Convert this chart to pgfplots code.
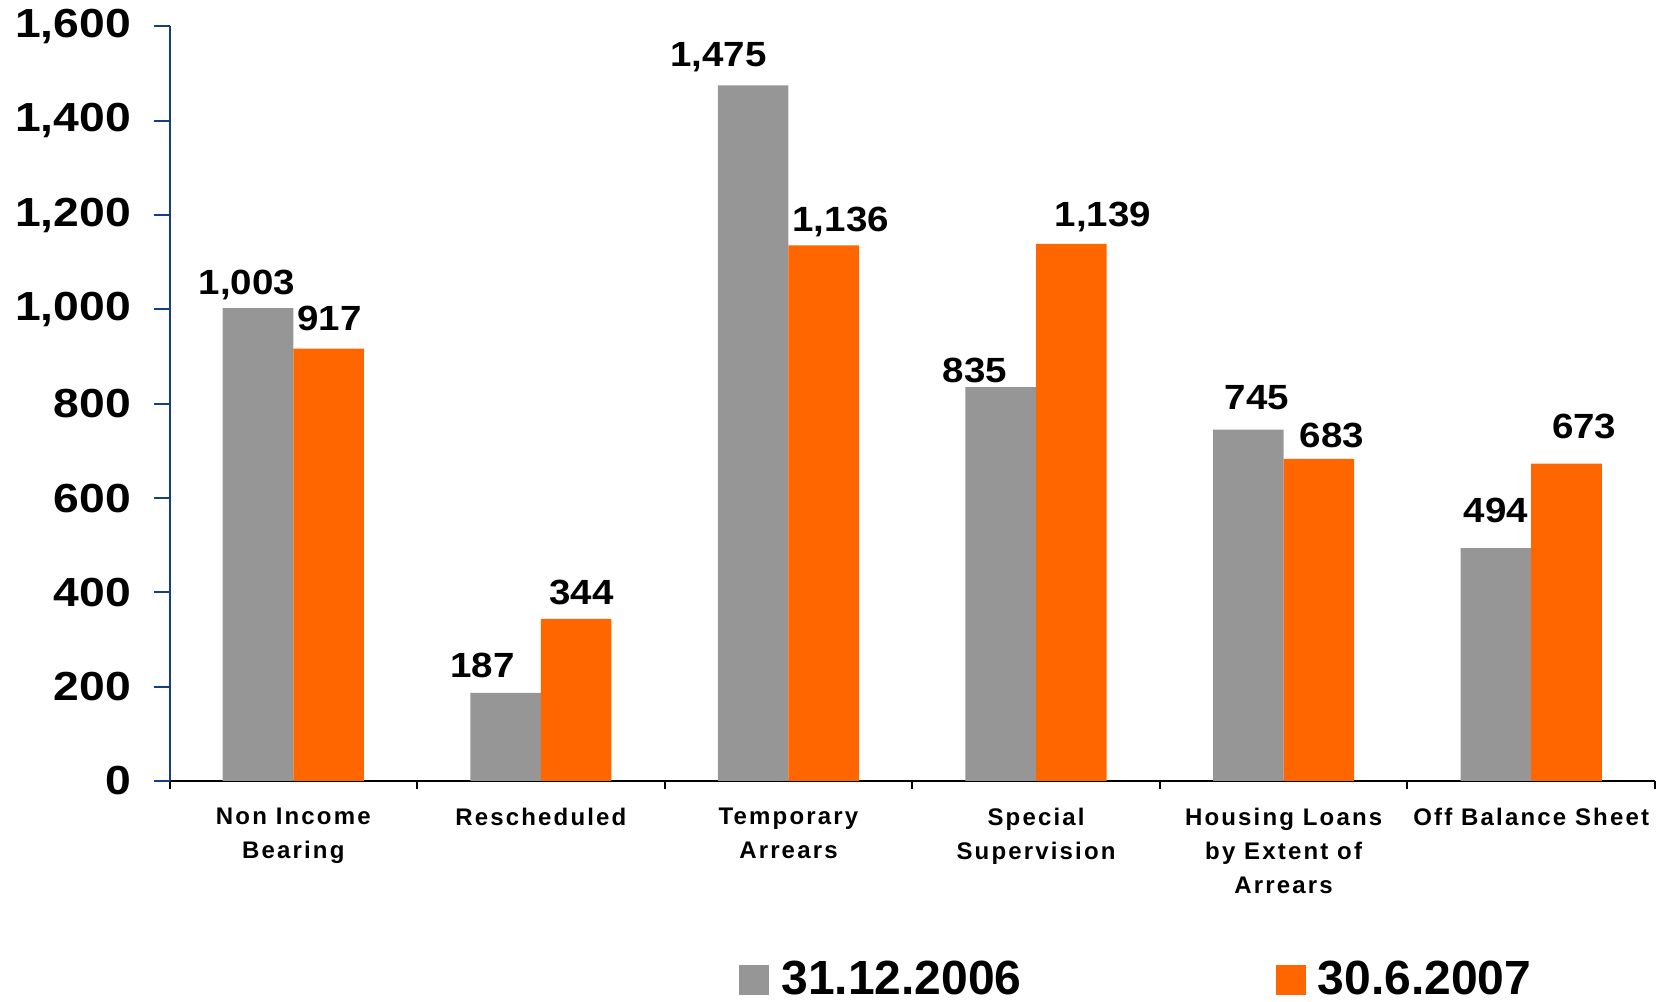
\documentclass[border=0pt]{standalone}
\usepackage{fontspec}
\setmainfont{Liberation Sans}
\newfontfamily\wf[FakeStretch=1.14]{Liberation Sans}
\newfontfamily\vf[FakeStretch=1.1]{Liberation Sans}
\newfontfamily\cf[LetterSpace=9]{Liberation Sans}
\usepackage{pgfplots}
\usepackage{pgfplotstable}
\pgfplotsset{compat=1.18}
\definecolor{cgray}{RGB}{150,150,150}
\definecolor{corange}{RGB}{255,102,0}
\definecolor{cblue}{RGB}{20,65,125}
\pgfplotstableread{
x y dx dy
0 1003 -5.5 7
1 187 -11.6 7.5
2 1475 -17.3 9.7
3 835 -12.9 2.2
4 745 4.3 10.3
5 494 0 12.7
}\dataA
\pgfplotstableread{
x y dx dy
0 917 0.5 9
1 344 2.6 7.3
2 1136 8.5 7
3 1139 15.8 8.7
4 683 6.5 5.8
5 673 8.9 12.5
}\dataB
\begin{document}
\begin{tikzpicture}
\begin{axis}[
  scale only axis, width=742.75pt, height=377.25pt,
  xmin=-0.5, xmax=5.5, ymin=0, ymax=1600,
  ybar=0pt, bar width=0.285,
  axis x line*=bottom, axis y line*=left,
  x axis line style={black, line width=1pt},
  y axis line style={cblue, line width=1pt},
  tick align=outside,
  xtick={-0.5,0.5,...,5.5},
  xticklabels={{Non Income\\Bearing},Rescheduled,{Temporary\\Arrears},{Special\\Supervision},{Housing Loans\\by Extent of\\Arrears},{Off Balance Sheet},{}},
  x tick label style={align=center, font=\fontsize{12}{17}\selectfont\cf\bfseries, inner sep=0pt, xshift=61.9pt, yshift=-9pt, anchor=north},
  xtick style={black, line width=1pt, /pgfplots/major tick length=4pt},
  ytick={0,200,...,1600},
  ytick style={cblue, line width=1pt, /pgfplots/major tick length=7.5pt},
  y tick label style={font=\fontsize{20.3}{21}\selectfont\wf\bfseries, inner sep=0pt, xshift=-14.8pt},
  /pgf/number format/1000 sep={,},
  /pgf/number format/assume math mode=true,
  nodes near coords,
  visualization depends on={\thisrow{dx} \as \dx},
  visualization depends on={\thisrow{dy} \as \dy},
  every node near coord/.append style={font=\fontsize{17.5}{18}\selectfont\vf\bfseries, inner sep=0pt, anchor=base, xshift=\dx pt, yshift=\dy pt, black},
  legend columns=2,
  legend style={at={(0.3834,-0.2880)}, anchor=south west, draw=none, inner sep=0pt,
    font=\fontsize{24}{24}\selectfont\bfseries,
    nodes={inner sep=0pt},
    /tikz/column 1/.style={column sep=6pt},
    /tikz/column 2/.style={column sep=127pt},
    /tikz/column 3/.style={column sep=6pt}},
]
\addplot[fill=cgray, draw=none, legend image code/.code={\fill[cgray] (0pt,-7.5pt) rectangle (15pt,7.5pt);}]
  table[x=x, y=y] {\dataA};
\addplot[fill=corange, draw=none, legend image code/.code={\fill[corange] (0pt,-7.5pt) rectangle (15pt,7.5pt);}]
  table[x=x, y=y] {\dataB};
\legend{31.12.2006, 30.6.2007}
\coordinate (bl) at (rel axis cs:-0.1141,-0.2929);
\coordinate (tr) at (rel axis cs:1.00404,1.03513);
\end{axis}
\pgfresetboundingbox
\path (bl) rectangle (tr);
\end{tikzpicture}
\end{document}
